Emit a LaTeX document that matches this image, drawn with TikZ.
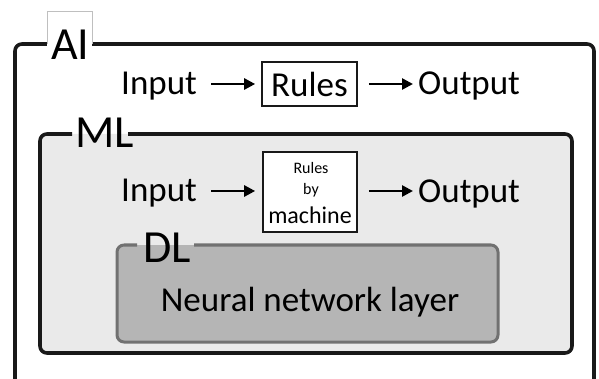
\documentclass[tikz,border=0pt]{standalone}
\usepackage{fontspec}
\setmainfont{Carlito}
\usetikzlibrary{arrows.meta}
\definecolor{mlfill}{HTML}{EAEAEA}
\definecolor{dlfill}{HTML}{B5B5B5}
\definecolor{dlline}{HTML}{717171}
\tikzset{
  frame/.style={draw=black!90,line width=3.6pt,rounded corners=7pt,line join=round},
  dlframe/.style={draw=dlline,line width=3pt,rounded corners=7pt,line join=round},
  rulebox/.style={draw=black!90,line width=1.7pt,fill=white},
  txt/.style={font=\fontsize{35}{36}\selectfont,inner sep=0pt,anchor=base west},
  big/.style={font=\fontsize{46}{46}\selectfont,inner sep=0pt,anchor=base west},
  arr/.style={line width=2.6pt,-{Triangle[length=11pt,width=11pt]}}
}
\begin{document}
\begin{tikzpicture}[x=1pt,y=-1pt]
\useasboundingbox (0,0) rectangle (599,379);
\clip (0,0) rectangle (599,379);
\fill[white] (0,0) rectangle (599,379);
% AI frame
\draw[frame] (92,44) -- (594,44) -- (594,400);
\draw[frame] (15,400) -- (15,44) -- (47,44);
% ML frame
\fill[mlfill,rounded corners=7pt] (40,134) rectangle (572,353);
\draw[frame] (128,134) -- (572,134) -- (572,353) -- (40,353) -- (40,134) -- (72,134);
% DL frame
\fill[dlfill,rounded corners=7pt] (117,245) rectangle (498,342);
\draw[dlframe] (194,245) -- (498,245) -- (498,342) -- (117,342) -- (117,245) -- (137,245);
% AI label box
\fill[white] (47,11) rectangle (92,60);
\draw[black!25,line width=0.8pt] (47,44) -- (47,11) -- (92,11) -- (92,44);
\node[big] (ai) at (51,60) {AI};
\node[big] (ml) at (75,148) {ML};
\node[big] (dl) at (143,262) {DL};
% row 1
\node[txt] (in1) at (121,95) {Input};
\node[rulebox,minimum width=95pt,minimum height=44pt,inner sep=0pt,font=\fontsize{35}{36}\selectfont] (r1) at (309.5,84) {Rules};
\node[txt] (out1) at (418,95) {Output};
\coordinate (a1s) at (211,84);
\coordinate (a2e) at (413,84);
\draw[arr] (a1s) -- ([xshift=-6pt]r1.west);
\draw[arr] ([xshift=11pt]r1.east) -- (a2e);
% row 2
\node[txt] (in2) at (121,202) {Input};
\node[rulebox,minimum width=94pt,minimum height=80pt,inner sep=0pt] (r2) at (310,192) {};
\node[font=\fontsize{16}{16}\selectfont,inner sep=0pt] (r2a) at (311,168) {Rules};
\node[font=\fontsize{16}{16}\selectfont,inner sep=0pt] (r2b) at (311,190) {by};
\node[font=\fontsize{24}{24}\selectfont,inner sep=0pt] (r2c) at (310,215) {machine};
\node[txt] (out2) at (418,203) {Output};
\coordinate (b1s) at (211,191);
\coordinate (b2e) at (413,191);
\draw[arr] (b1s) -- ([xshift=-7pt]b1s -| r2.west);
\draw[arr] ([xshift=11pt]b2e -| r2.east) -- (b2e);
% DL text
\node[font=\fontsize{35}{36}\selectfont,inner sep=0pt,anchor=base] (nn) at (310,311) {Neural network layer};
\end{tikzpicture}
\end{document}
